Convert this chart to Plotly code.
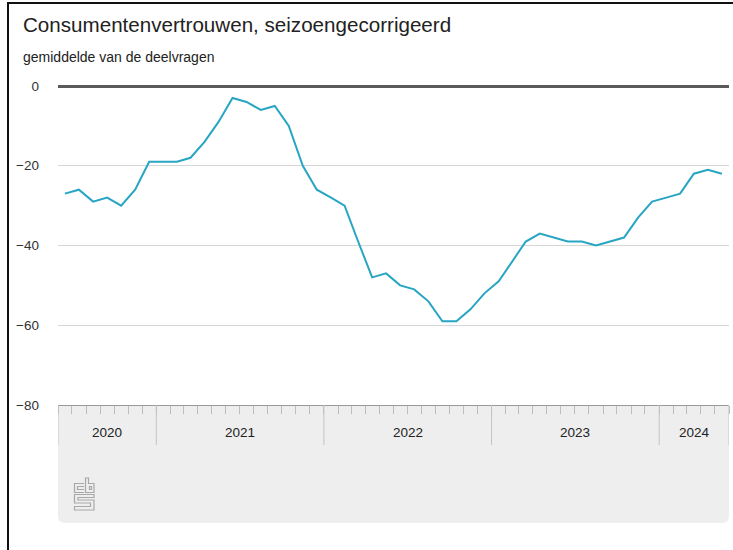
import pandas as pd
import plotly.graph_objects as go

# ---- data ----
title = "Consumentenvertrouwen, seizoengecorrigeerd"
subtitle = "gemiddelde van de deelvragen"
first_month = "2020-06"
last_month = "2024-05"
values = [
    -27, -26, -29, -28, -30, -26, -19,                                 # 2020 jun-dec
    -19, -19, -18, -14, -9, -3, -4, -6, -5, -10, -20, -26,             # 2021
    -28, -30, -39, -48, -47, -50, -51, -54, -59, -59, -56, -52,        # 2022
    -49, -44, -39, -37, -38, -39, -39, -40, -39, -38, -33, -29,        # 2023
    -28, -27, -22, -21, -22,                                           # 2024 jan-mei
]
y_ticks = [0, -20, -40, -60, -80]
years = ["2020", "2021", "2022", "2023", "2024"]

# ---- derived ----
periods = pd.period_range(first_month, last_month, freq="M")
x_mid = [p.start_time + (p.end_time - p.start_time) / 2 for p in periods]
x_start = periods[0].start_time
x_end = (periods[-1] + 1).start_time
year_bounds = [x_start] + [pd.Timestamp(f"{y}-01-01") for y in years[1:]] + [x_end]

W, H = 733, 550
PL, PR, PT, PB = 58, 729, 86, 405  # plot area in pixels


def px(x):
    return (x - PL) / (PR - PL)


def py(y):
    return (PB - y) / (PB - PT)


FONT = "Liberation Sans, Arial, sans-serif"
LINE_COLOR = "#27a5c3"

fig = go.Figure()
fig.add_trace(go.Scatter(
    x=x_mid, y=values, mode="lines",
    line=dict(color=LINE_COLOR, width=2),
    hoverinfo="x+y", showlegend=False,
))

shapes = []
# grey band below the axis with rounded bottom corners
r = 7
bx0, bx1, by0, by1 = px(PL), px(PR), py(PB), py(523)
rx, ry = r / (PR - PL), r / (PB - PT)
shapes.append(dict(
    type="path", xref="paper", yref="paper", layer="below",
    path=(f"M {bx0},{by0} L {bx1},{by0} L {bx1},{by1 + ry} "
          f"Q {bx1},{by1} {bx1 - rx},{by1} L {bx0 + rx},{by1} "
          f"Q {bx0},{by1} {bx0},{by1 + ry} Z"),
    fillcolor="#eeeeee", line=dict(width=0),
))
# long year-separator ticks
for b in year_bounds:
    shapes.append(dict(type="line", xref="x", yref="paper", x0=b, x1=b,
                       y0=py(PB), y1=py(445), line=dict(color="#c4c4c4", width=1)))
# zero line (paper-referenced so it is not clipped at the plot edge)
shapes.append(dict(type="line", xref="paper", yref="paper", x0=0, x1=1,
                   y0=py(86.5), y1=py(86.5),
                   line=dict(color="#5a5a5a", width=3)))
# screenshot frame (top and left)
shapes.append(dict(type="line", xref="paper", yref="paper",
                   x0=px(7), x1=px(733), y0=py(3), y1=py(3),
                   line=dict(color="#111111", width=2)))
shapes.append(dict(type="line", xref="paper", yref="paper",
                   x0=px(8), x1=px(8), y0=py(3), y1=py(550),
                   line=dict(color="#111111", width=2)))


# cbs logo (line art)
def pth(points, close=False):
    s = "M " + " L ".join(f"{px(a)},{py(b)}" for a, b in points)
    return s + (" Z" if close else "")


logo_color = "#a8a8a8"
logo_paths = [
    pth([(84, 483.5), (74.5, 483.5), (74.5, 492.5), (84, 492.5)]),
    pth([(84, 486.5), (77.5, 486.5), (77.5, 489.5), (84, 489.5)]),
    pth([(85.5, 478), (85.5, 492.5), (94, 492.5), (94, 483.5), (88.5, 483.5), (88.5, 478)], True),
    pth([(89.5, 486.5), (91.5, 486.5), (91.5, 489.5), (89.5, 489.5)], True),
    pth([(94, 494.5), (74.5, 494.5), (74.5, 503), (90.5, 503), (90.5, 506.5),
         (74.5, 506.5), (74.5, 510), (94, 510), (94, 500), (78, 500),
         (78, 497.5), (94, 497.5)], True),
]
for p in logo_paths:
    shapes.append(dict(type="path", xref="paper", yref="paper", path=p,
                       line=dict(color=logo_color, width=1.2)))

annotations = [
    dict(text=title, x=px(21), y=py(24), xref="paper", yref="paper",
         xanchor="left", yanchor="middle", showarrow=False,
         font=dict(size=20.6, color="#222222", family=FONT)),
    dict(text=subtitle, x=px(21), y=py(57), xref="paper", yref="paper",
         xanchor="left", yanchor="middle", showarrow=False,
         font=dict(size=14, color="#222222", family=FONT)),
]
for i, yr in enumerate(years):
    a, b = year_bounds[i], year_bounds[i + 1]
    annotations.append(dict(text=yr, x=a + (b - a) / 2, y=py(432),
                            xref="x", yref="paper", xanchor="center",
                            yanchor="middle", showarrow=False,
                            font=dict(size=13.5, color="#222222", family=FONT)))

fig.update_layout(
    width=W, height=H,
    margin=dict(l=PL, r=W - PR, t=PT, b=H - PB, pad=0),
    paper_bgcolor="white", plot_bgcolor="white",
    font=dict(family=FONT, size=13, color="#333333"),
    shapes=shapes, annotations=annotations,
    xaxis=dict(
        type="date", range=[x_start, x_end], showgrid=False, zeroline=False,
        showline=True, linecolor="#9a9a9a", linewidth=1,
        ticks="outside", tickvals=year_bounds, ticklen=0, tickcolor="#c4c4c4",
        showticklabels=False,
        minor=dict(ticks="outside", dtick="M1", tick0=x_start, ticklen=8,
                   tickcolor="#bdbdbd", tickwidth=1, showgrid=False),
        fixedrange=True,
    ),
    yaxis=dict(
        range=[-80, 0], tickvals=y_ticks, showgrid=True, gridcolor="#d6d6d6",
        gridwidth=1, zeroline=False, showline=False, ticks="",
        ticklabelstandoff=18, tickfont=dict(size=13.5, color="#333333"),
        fixedrange=True,
    ),
)

fig.write_html(
    "out.html",
    config={"displayModeBar": False},
    post_script="document.body.style.margin='0';document.body.style.overflow='hidden';",
)
